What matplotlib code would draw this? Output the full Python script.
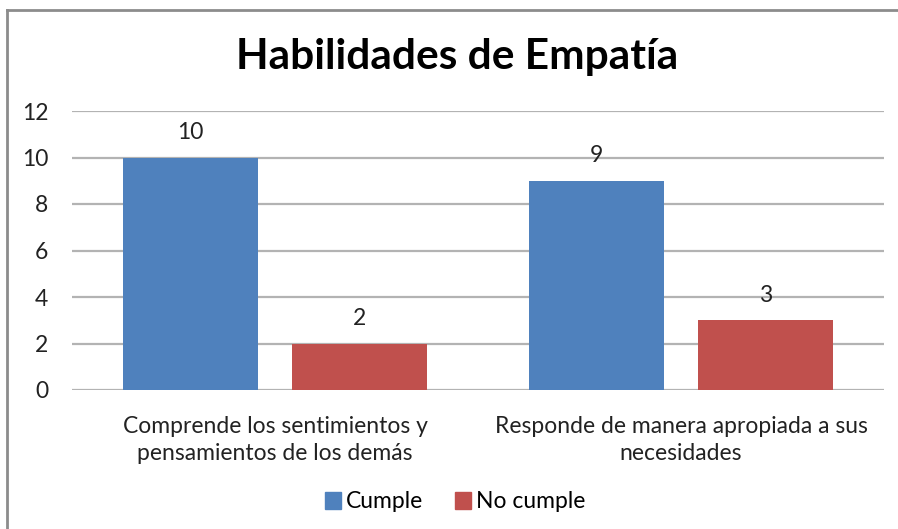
import matplotlib
matplotlib.use("Agg")
import matplotlib.pyplot as plt
from matplotlib.lines import Line2D
import numpy as np

categories = ["Comprende los sentimientos y\npensamientos de los demás",
              "Responde de manera apropiada a sus\nnecesidades"]
series_names = ["Cumple", "No cumple"]
cumple = [10, 9]
no_cumple = [2, 3]
colors = ["#4F81BD", "#C0504D"]
yticks = [0, 2, 4, 6, 8, 10, 12]

plt.rcParams['font.family'] = ['Lato', 'DejaVu Sans']

W, H = 898, 529
fig = plt.figure(figsize=(W/100, H/100), dpi=100)
fig.patch.set_facecolor("white")

# plot area in pixels: x 72..884, y 111..390
ax = fig.add_axes([72/W, 1-390/H, (884-72)/W, (390-111)/H])

x = np.arange(len(categories))
bw = 0.3325
off = 0.208
for vals, name, col, sgn in [(cumple, series_names[0], colors[0], -1),
                             (no_cumple, series_names[1], colors[1], 1)]:
    bars = ax.bar(x + sgn*off, vals, width=bw, color=col, label=name, zorder=3)
    for b, v in zip(bars, vals):
        ax.annotate(str(v), (b.get_x()+b.get_width()/2, v), xytext=(0, 18),
                    textcoords="offset points", ha="center", va="center",
                    fontsize=16.5, color="#222222")

ax.set_xlim(-0.5, 1.5)
ax.set_ylim(0, 12)
ax.set_yticks(yticks)
ax.set_yticklabels([str(t) for t in yticks], fontsize=16.5, color="#222222")
ax.set_xticks(x)
ax.set_xticklabels(categories, fontsize=16.5, color="#222222", linespacing=1.35)
ax.tick_params(axis="y", length=0, pad=17)
ax.tick_params(axis="x", length=0, pad=19)
ax.grid(axis="y", color="#b3b3b3", linewidth=1.6, zorder=0)
for s in ax.spines.values():
    s.set_visible(False)

fig.text(457/W, 1-57/H, "Habilidades de Empatía", ha="center", va="center",
         fontsize=30.5, fontweight="bold", color="black")

handles = [plt.Rectangle((0, 0), 1, 1, color=c) for c in colors]
fig.legend(handles, series_names, loc="center", bbox_to_anchor=(455/W, 1-502/H),
           ncol=2, frameon=False, fontsize=16.5, handlelength=0.7, handleheight=0.7,
           handletextpad=0.2, columnspacing=1.4)

# outer frame
fig.add_artist(Line2D([7/W, 1.0], [1-10/H, 1-10/H], color="#8c8c8c", linewidth=2))
fig.add_artist(Line2D([7/W, 7/W], [1-10/H, 0], color="#8c8c8c", linewidth=2))

fig.savefig("out.png", dpi=100, facecolor="white")
